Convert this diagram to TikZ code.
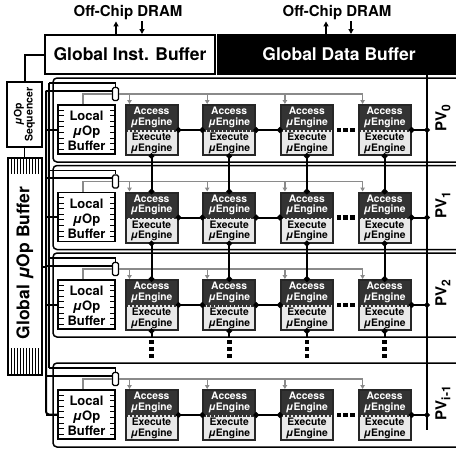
\documentclass[tikz,border=0pt]{standalone}
\usepackage{fontspec}
\setmainfont{TeX Gyre Heros}
\usetikzlibrary{arrows.meta,positioning,calc}

\definecolor{accdark}{HTML}{333333}
\definecolor{exelight}{HTML}{E8E8E8}
\definecolor{feedgray}{HTML}{8A8A8A}

\newcommand{\mueng}{\textit{μ}Engine}
\newcommand{\muop}{\textit{μ}Op}
\newcommand{\pvsub}[1]{\raisebox{-4pt}{\fontsize{12}{12}\selectfont #1}}

\tikzset{
  gbuf/.style={draw, line width=2pt, minimum height=39pt, inner sep=0pt, font=\fontsize{17.5}{19}\selectfont\bfseries},
  dramtxt/.style={font=\fontsize{15}{16}\selectfont\bfseries, inner sep=1pt},
  dramarrow/.style={line width=1.5pt, -{Triangle[length=5pt,width=5pt]}},
  engine/.style={draw=black!85, line width=2pt, minimum width=52pt, minimum height=50pt, inner sep=0pt,
    path picture={
      \fill[accdark] (path picture bounding box.north west) rectangle (path picture bounding box.east);
      \fill[exelight] (path picture bounding box.west) rectangle (path picture bounding box.south east);
      \draw[accdark, line width=1.5pt, dash pattern=on 2.5pt off 1.5pt] ([yshift=-0.75pt]path picture bounding box.west) -- ([yshift=-0.75pt]path picture bounding box.east);
    }},
  acctext/.style={text=white, align=center, inner sep=0pt, font=\fontsize{10.3}{10.5}\selectfont\bfseries},
  exetext/.style={text=black, align=center, inner sep=0pt, font=\fontsize{10.3}{10.8}\selectfont\bfseries},
  lbuf/.style={draw, line width=1.5pt, fill=white, minimum width=57pt, minimum height=49pt, inner sep=0pt},
  buftext/.style={align=center, inner sep=0pt, font=\fontsize{13}{15}\selectfont\bfseries},
  muxbox/.style={draw, line width=1.2pt, fill=white, rounded corners=1.5pt, minimum width=6pt, minimum height=13pt, inner sep=0pt},
  link/.style={line width=2pt, {Circle[length=5.5pt]}-{Circle[length=5.5pt]}, shorten <=-2.75pt, shorten >=-2.75pt},
  stub/.style={line width=2pt, {Circle[length=5.5pt]}-, shorten <=-2.75pt},
  feed/.style={feedgray, line width=1.2pt},
  databus/.style={line width=2pt},
  ctrlbus/.style={line width=1.2pt},
  pvbox/.style={line width=1.5pt, rounded corners=4pt},
  pvtxt/.style={rotate=90, font=\fontsize{15}{16}\selectfont\bfseries, inner sep=0pt},
}

\begin{document}
\begin{tikzpicture}[x=1pt,y=-1pt]
\clip (0,0) rectangle (456,448);

% global buffers and off-chip memory
\node[gbuf, minimum width=170pt] (gib) at (130,54.5) {Global Inst. Buffer};
\node[gbuf, fill=black, text=white, minimum width=242pt] (gdb) at (339,54.5) {Global Data Buffer};
\node[dramtxt] (dram-i) at (128,13) {Off-Chip DRAM};
\node[dramtxt] (dram-d) at (337,13) {Off-Chip DRAM};
\draw[dramarrow] ([xshift=-14pt]gib.north) -- ([xshift=-14pt]gib.north |- dram-i.south);
\draw[dramarrow] ([xshift=12pt]gib.north |- dram-i.south) -- ([xshift=12pt]gib.north);
\draw[dramarrow] ([xshift=-13pt]gdb.north) -- ([xshift=-13pt]gdb.north |- dram-d.south);
\draw[dramarrow] ([xshift=12pt]gdb.north |- dram-d.south) -- ([xshift=12pt]gdb.north);

% sequencer and global uop buffer
\node[draw, line width=1.2pt, minimum width=35pt, minimum height=65pt, inner sep=0pt] (seq) at (24.5,114.5) {};
\node[rotate=90, align=center, inner sep=0pt, font=\fontsize{10.5}{11}\selectfont\bfseries] at (seq.center) {\muop\\Sequencer};
\node[draw, line width=1.2pt, minimum width=34pt, minimum height=217pt, inner sep=0pt] (gub) at (25,266.5) {};
\foreach \x in {11.5,14.5,...,38.5} {
  \draw[line width=0.6pt] (\x,158) -- (\x,174);
  \draw[line width=0.6pt] (\x,348) -- (\x,375);
}
\node[rotate=90, inner sep=0pt, font=\fontsize{17.5}{19}\selectfont\bfseries] at (25,263) {Global \muop{} Buffer};
\draw[databus] (gib.west) -| (seq.north);
\draw[ctrlbus] (seq.south) -- (seq.south |- gub.north);

% processing vectors
\foreach \k/\T/\lab in {0/78/0,1/165.5/1,2/253/2,3/363/i-1} {
  \draw[pvbox] (53,\T) rectangle (475,\T+84);
  \node[lbuf] (lb-\k) at (86.5,\T+51.5) {};
  \foreach \i in {0,...,7} {
    \draw[line width=1pt] (58,\T+32+5.6*\i) -- (63.5,\T+32+5.6*\i);
    \draw[line width=1pt] (115,\T+32+5.6*\i) -- (109.5,\T+32+5.6*\i);
  }
  \node[buftext] at (86.5,\T+53) {Local\\\muop\\Buffer};
  \node[muxbox] (mx-\k) at (115.5,\T+16) {};
  \foreach \j in {1,...,4} {
    \node[engine] (e-\k-\j) at ({151.5+77.7*(\j-1)},\T+52) {};
    \node[acctext] at ([yshift=12.5pt]e-\k-\j.center) {Access\\\mueng};
    \node[exetext] at ([yshift=-13.5pt]e-\k-\j.center) {Execute\\\mueng};
    \coordinate (ft-\k-\j) at ({151.5+77.7*(\j-1)-22},\T+16);
  }
  % uop feed from buffer through mux
  \draw[feed] ([xshift=-3.5pt]lb-\k.north) |- (mx-\k.west);
  \draw[feed] (mx-\k.east) -- (ft-\k-4);
  \foreach \j in {1,...,4}
    \draw[feed, -{Triangle[length=4pt,width=4.5pt]}] (ft-\k-\j) -- (ft-\k-\j |- e-\k-\j.north);
  % buses from the left
  \coordinate (cb-\k) at (49,\T+5);
  \coordinate (db-\k) at (46,\T+12.5);
  \coordinate (dl-\k) at (46,\T+51.5);
  \draw[ctrlbus] (cb-\k) -| (mx-\k.north);
  \draw[databus] (db-\k) -- (db-\k -| mx-\k.west);
  \draw[databus] (dl-\k) -- (lb-\k.west);
  % engine chain
  \coordinate (rb-\k) at (427,\T+52);
  \draw[link] (e-\k-1) -- (e-\k-2);
  \draw[link] (e-\k-2) -- (e-\k-3);
  \draw[link] (e-\k-4) -- (rb-\k);
  \foreach \d in {-6.7,0,6.7}
    \fill ($(e-\k-3.east)!0.5!(e-\k-4.west)+(\d,0)$) +(-2.3,-2.3) rectangle +(2.3,2.3);
  \node[pvtxt] (pv-\k) at (443,\T+40) {PV\pvsub{\lab}};
}

% vertical engine links
\foreach \j in {1,...,4} {
  \draw[link] (e-0-\j) -- (e-1-\j);
  \draw[link] (e-1-\j) -- (e-2-\j);
  \draw[stub] (e-2-\j.south) -- ++(0,7);
  \foreach \y in {342,349,356}
    \fill (e-2-\j.south |- 0,\y) +(-2.3,-2.3) rectangle +(2.3,2.3);
}

% left buses and right bus
\draw[databus, rounded corners=3pt] (db-0) -- (dl-2) |- (lb-3.west);
\draw[ctrlbus, rounded corners=3pt] (cb-0) -- (cb-3);
\draw[databus] (gub.east) -- (gub.east -| db-0);
\coordinate (bus-bot) at (427,430);
\draw[databus] (gdb.south -| bus-bot) -- (bus-bot);
\end{tikzpicture}
\end{document}
